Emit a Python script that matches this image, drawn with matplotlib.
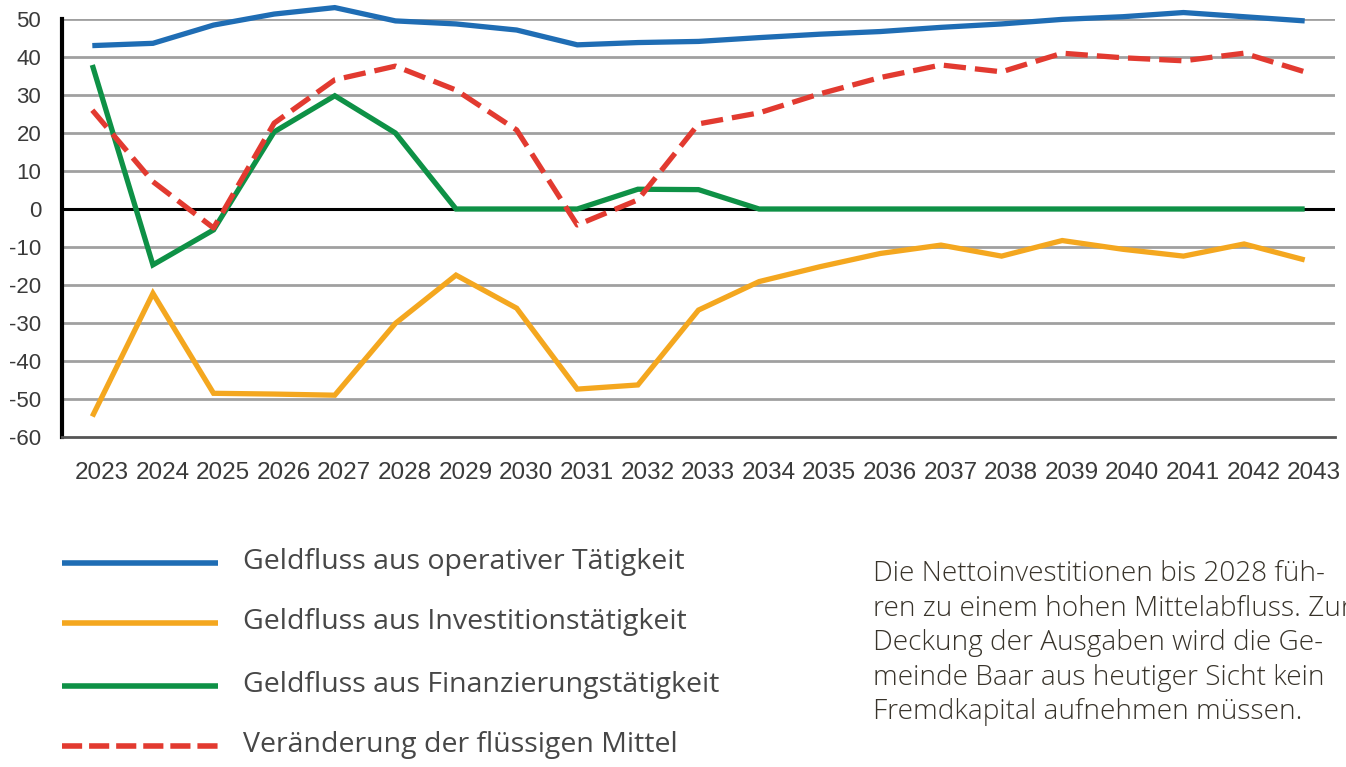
import matplotlib
matplotlib.use('Agg')
import matplotlib.pyplot as plt
from matplotlib.lines import Line2D
from matplotlib.transforms import ScaledTranslation

plt.rcParams['font.family'] = ['Liberation Sans', 'DejaVu Sans']
plt.rcParams['lines.scale_dashes'] = False
plt.rcParams['axes.unicode_minus'] = False

years = list(range(2023, 2044))
operativ = [43, 43.6, 48.4, 51.3, 53, 49.5, 48.7, 47.1, 43.2, 43.8, 44.1,
            45.1, 46, 46.7, 47.8, 48.7, 49.9, 50.6, 51.7, 50.6, 49.5]
investition = [-54.6, -22.2, -48.5, -48.7, -49, -30.1, -17.4, -26.1, -47.4, -46.3, -26.6,
               -19.1, -15.2, -11.7, -9.5, -12.4, -8.3, -10.6, -12.4, -9.2, -13.4]
finanzierung = [37.9, -14.7, -5.5, 20.3, 29.8, 20, 0, 0, 0, 5.2, 5.1,
                0, 0, 0, 0, 0, 0, 0, 0, 0, 0]
veraenderung = [26, 7.2, -5, 22.6, 34, 37.6, 31.3, 20.8, -4.2, 2.4, 22.4,
                25.3, 30.3, 34.6, 37.9, 36.1, 41, 39.8, 39, 41, 36.1]

labels = ['Geldfluss aus operativer Tätigkeit',
          'Geldfluss aus Investitionstätigkeit',
          'Geldfluss aus Finanzierungstätigkeit',
          'Veränderung der flüssigen Mittel']
colors = ['#1f6db4', '#f4a71f', '#0e9146', '#e23a30']
dash = (16, 6.5)
text_font = ['Open Sans', 'DejaVu Sans']

W, H = 1346, 767
fig = plt.figure(figsize=(W / 100, H / 100), dpi=100)
ax = fig.add_axes([62 / W, 1 - 437 / H, (1335 - 62) / W, (437 - 19) / H])

ax.set_xlim(2022.5, 2043.5)
ax.set_ylim(-60, 50)
yt = list(range(-60, 51, 10))
ax.set_yticks(yt)
ax.set_xticks(years)
ax.set_xticklabels([str(y) for y in years])
for v in yt:
    if v == 0:
        ax.axhline(v, color='black', lw=2.2, zorder=1)
    elif v != -60:
        ax.axhline(v, color='#a0a0a0', lw=2, zorder=1)

for s in ['top', 'right']:
    ax.spines[s].set_visible(False)
ax.spines['left'].set_linewidth(3)
ax.spines['left'].set_color('black')
ax.spines['bottom'].set_linewidth(2)
ax.spines['bottom'].set_color('#555555')
ax.tick_params(length=0, labelcolor='#3a3a3a')
ax.tick_params(axis='y', pad=15, labelsize=16)
ax.tick_params(axis='x', pad=18, labelsize=17.5)
# year labels sit a little right of their points in the original
shift = ScaledTranslation(0.095, 0, fig.dpi_scale_trans)
for lab in ax.get_xticklabels():
    lab.set_transform(lab.get_transform() + shift)

series = [operativ, investition, finanzierung, veraenderung]
for i, vals in enumerate(series):
    kw = dict(color=colors[i], lw=3.8, clip_on=False, zorder=3 + i,
              solid_joinstyle='miter', solid_capstyle='butt')
    if i == 3:
        kw['dashes'] = dash
        kw['zorder'] = 7
    ax.plot(years, vals, **kw)

# legend, drawn by hand at the bottom left
ly = [563, 623, 686, 746]
for i in range(4):
    kw = dict(color=colors[i], lw=4, transform=fig.transFigure, solid_capstyle='butt')
    if i == 3:
        kw['dashes'] = (14.5, 5)
        kw['dash_capstyle'] = 'butt'
    fig.add_artist(Line2D([62 / W, 218 / W], [1 - ly[i] / H] * 2, **kw))
    fig.text(243 / W, 1 - (ly[i] - 1) / H, labels[i], fontsize=20.5, color='#474747',
             va='center', ha='left', family=text_font)

note = ('Die Nettoinvestitionen bis 2028 füh-\n'
        'ren zu einem hohen Mittelabfluss. Zur\n'
        'Deckung der Ausgaben wird die Ge-\n'
        'meinde Baar aus heutiger Sicht kein\n'
        'Fremdkapital aufnehmen müssen.')
fig.text(873 / W, 1 - 560 / H, note, fontsize=20.2, color='#38332a',
         va='top', ha='left', linespacing=1.31, family=text_font, weight='light')

fig.savefig('out.png', dpi=100)
